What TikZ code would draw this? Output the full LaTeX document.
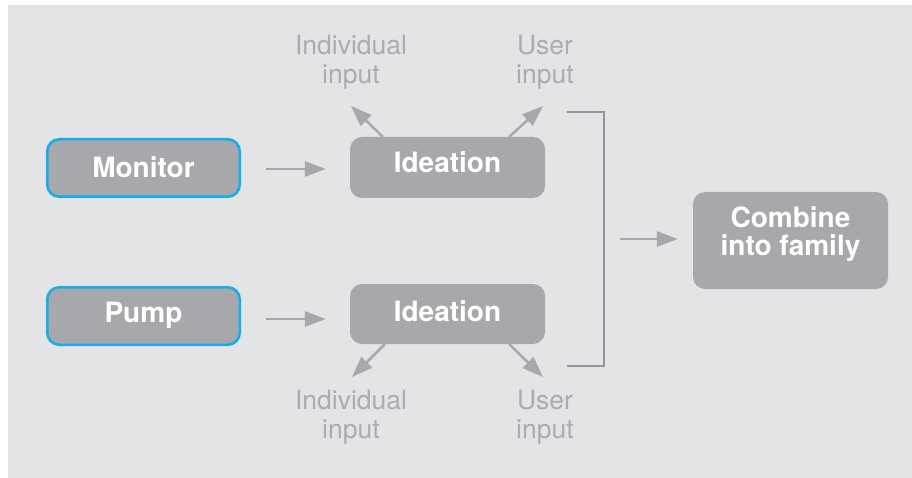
\documentclass[tikz,border=0pt]{standalone}
\usepackage{fontspec}
\setmainfont{TeX Gyre Heros}
\usetikzlibrary{arrows.meta,calc}
\definecolor{bgc}{HTML}{E3E4E6}
\definecolor{boxc}{HTML}{A7A8AB}
\definecolor{labc}{HTML}{ABACAF}
\definecolor{arrc}{HTML}{A7A8AB}
\definecolor{brc}{HTML}{949598}
\definecolor{bluec}{HTML}{12AEEA}
\begin{document}
\begin{tikzpicture}[x=1pt,y=-1pt,
  boxbase/.style={rounded corners=12pt, fill=boxc, text=white, inner sep=0pt,
    font=\fontsize{28}{28}\selectfont\bfseries, text height=19pt, text depth=0pt},
  src/.style={boxbase, draw=bluec, line width=2.5pt, minimum width=192.5pt, minimum height=57.5pt},
  proc/.style={boxbase, minimum width=195pt, minimum height=61pt},
  lab/.style={align=center, inner sep=0pt, text=labc, font=\fontsize{26.5}{29}\selectfont},
  arr/.style={draw=arrc, line width=2.5pt, -{Triangle[length=21pt,width=15pt]}},
  brk/.style={draw=brc, line width=2.7pt}
]
\fill[white] (0,0) rectangle (912,478);
\fill[bgc] (8,5) rectangle (912,478);
\useasboundingbox (0,0) rectangle (912,478);

\node[src] (mon) at (143.5,168) {Monitor};
\node[src, text depth=6pt] (pump) at (143.5,316) {Pump};
\node[proc, text depth=8pt] (ia) at (447.5,167.5) {Ideation};
\node[proc, text depth=4pt, minimum height=60pt] (ib) at (447.5,314) {Ideation};
\node[proc, align=center, minimum height=97pt, text height=, text depth=18pt] (comb) at (790.5,240.5) {Combine\\into family};

\node[lab, anchor=north] (la1) at (351,35) {Individual\\input};
\node[lab, anchor=north] (la2) at (545,35) {User\\input};
\node[lab, anchor=north] (lb1) at (351,390) {Individual\\input};
\node[lab, anchor=north] (lb2) at (545,390) {User\\input};

\coordinate (ta1) at (351,106);
\coordinate (ta2) at (543,106);
\coordinate (tb1) at (352,377);
\coordinate (tb2) at (543,377);

\draw[arr] ($(ia.north west)+(33,0)$) -- (ta1);
\draw[arr] ($(ia.north east)+(-36,0)$) -- (ta2);
\draw[arr] ($(ib.south west)+(35,0)$) -- (tb1);
\draw[arr] ($(ib.south east)+(-36,0)$) -- (tb2);

\draw[arr] ($(mon.east)+(25,1)$) -- ($(mon.east -| ia.west)+(-24,1)$);
\draw[arr] ($(pump.east)+(25,3)$) -- ($(pump.east -| ib.west)+(-24,3)$);

\coordinate (bt) at (567,112);
\coordinate (bb) at (567,366);
\coordinate (bx) at (604,0);
\coordinate (bm) at (620,239);
\draw[brk] (bt) -- (bt -| bx) -- (bb -| bx) -- (bb);
\draw[arr] (bm) -- ($(bm -| comb.west)+(-15,0)$);
\end{tikzpicture}
\end{document}
